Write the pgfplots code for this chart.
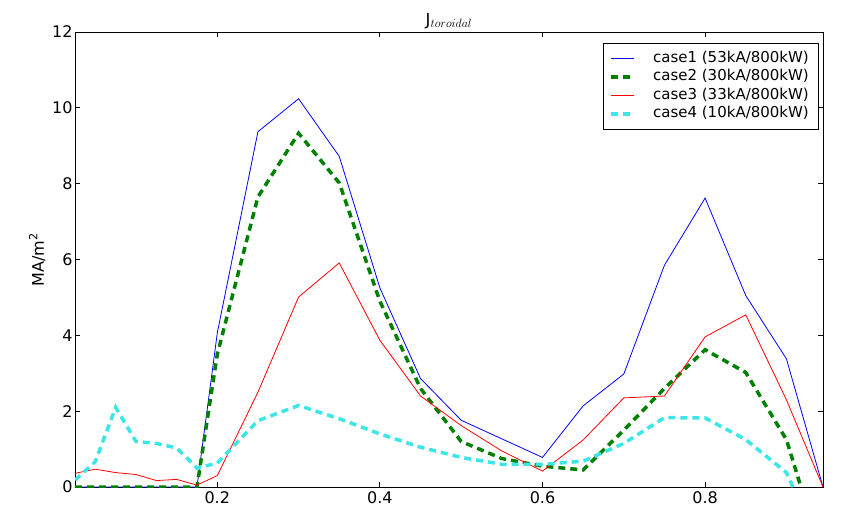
\documentclass[border=0pt]{standalone}
\usepackage{fontspec}
\setmainfont{DejaVu Sans}
\usepackage{pgfplots}
\usepackage{pgfplotstable}
\pgfplotsset{compat=1.18}
\definecolor{mplblue}{rgb}{0,0,1}
\definecolor{mplgreen}{rgb}{0,0.5,0}
\definecolor{mplred}{rgb}{1,0,0}
\definecolor{mplcyan}{RGB}{60,230,230}

\pgfplotstableread{
x      c1     c2     c3     c4
0.025  0      0      0.36   0.18
0.05   0      0      0.47   0.67
0.075  0      0      0.38   2.10
0.1    0      0      0.33   1.20
0.125  0      0      0.17   1.15
0.15   0      0      0.20   1.03
0.175  0      0      0.05   0.50
0.2    4.06   3.50   0.30   0.63
0.25   9.37   7.65   2.50   1.75
0.3    10.24  9.33   5.01   2.15
0.35   8.72   8.02   5.91   1.80
0.4    5.25   4.90   3.87   1.40
0.45   2.86   2.60   2.40   1.05
0.5    1.76   1.20   1.62   0.78
0.55   1.27   0.75   0.95   0.60
0.6    0.78   0.55   0.42   0.60
0.65   2.14   0.45   1.24   0.68
0.7    2.98   1.50   2.35   1.15
0.75   5.85   2.60   2.40   1.83
0.8    7.62   3.62   3.96   1.82
0.85   5.05   3.02   4.54   1.25
0.9    3.38   1.25   2.30   0.38
0.945  0      -1.9   0      -1.7
}\datatable

\begin{document}
\begin{tikzpicture}
\begin{axis}[
  scale only axis,
  width=748pt, height=455pt,
  xmin=0.025, xmax=0.945, ymin=0, ymax=12,
  xtick={0.2,0.4,0.6,0.8},
  ytick={0,2,4,6,8,10,12},
  tick align=inside,
  tick pos=both,
  major tick length=5pt,
  axis line style={line width=0.8pt},
  every tick/.style={black, line width=0.8pt},
  /pgf/number format/assume math mode=true,
  tick label style={font=\fontsize{16}{19}\selectfont},
  xticklabel style={yshift=-1pt},
  yticklabel style={xshift=1pt},
  title={J$_{toroidal}$},
  title style={font=\fontsize{16.5}{19}\selectfont, yshift=-6pt},
  ylabel={MA/m\textsuperscript{2}},
  ylabel style={font=\fontsize{16}{19}\selectfont},
  clip=true,
  legend cell align=left,
  legend style={
    at={(rel axis cs:0.995,0.976)}, anchor=north east,
    draw=black, line width=0.8pt,
    font=\fontsize{15}{18}\selectfont,
    inner xsep=6pt, inner ysep=6pt,
    row sep=0pt,
    nodes={text height=11pt, text depth=3.5pt, inner ysep=2pt, inner xsep=4pt},
  },
  legend image code/.code={\draw[#1] (0pt,0pt) -- (23pt,0pt); \path (36pt,0pt);},
]
\addplot[mplblue, line width=0.8pt] table[x=x, y=c1] {\datatable};
\addlegendentry{case1 (53kA/800kW)}
\addplot[mplgreen, line width=3.5pt, dash pattern=on 7pt off 5pt] table[x=x, y=c2] {\datatable};
\addlegendentry{case2 (30kA/800kW)}
\addplot[mplred, line width=0.8pt] table[x=x, y=c3] {\datatable};
\addlegendentry{case3 (33kA/800kW)}
\addplot[mplcyan, line width=3.5pt, dash pattern=on 7pt off 5pt] table[x=x, y=c4] {\datatable};
\addlegendentry{case4 (10kA/800kW)}
\end{axis}
\pgfresetboundingbox
\path (current axis.south west) ++(-75pt,-28pt) rectangle ++(854pt,515pt);
\end{tikzpicture}
\end{document}
